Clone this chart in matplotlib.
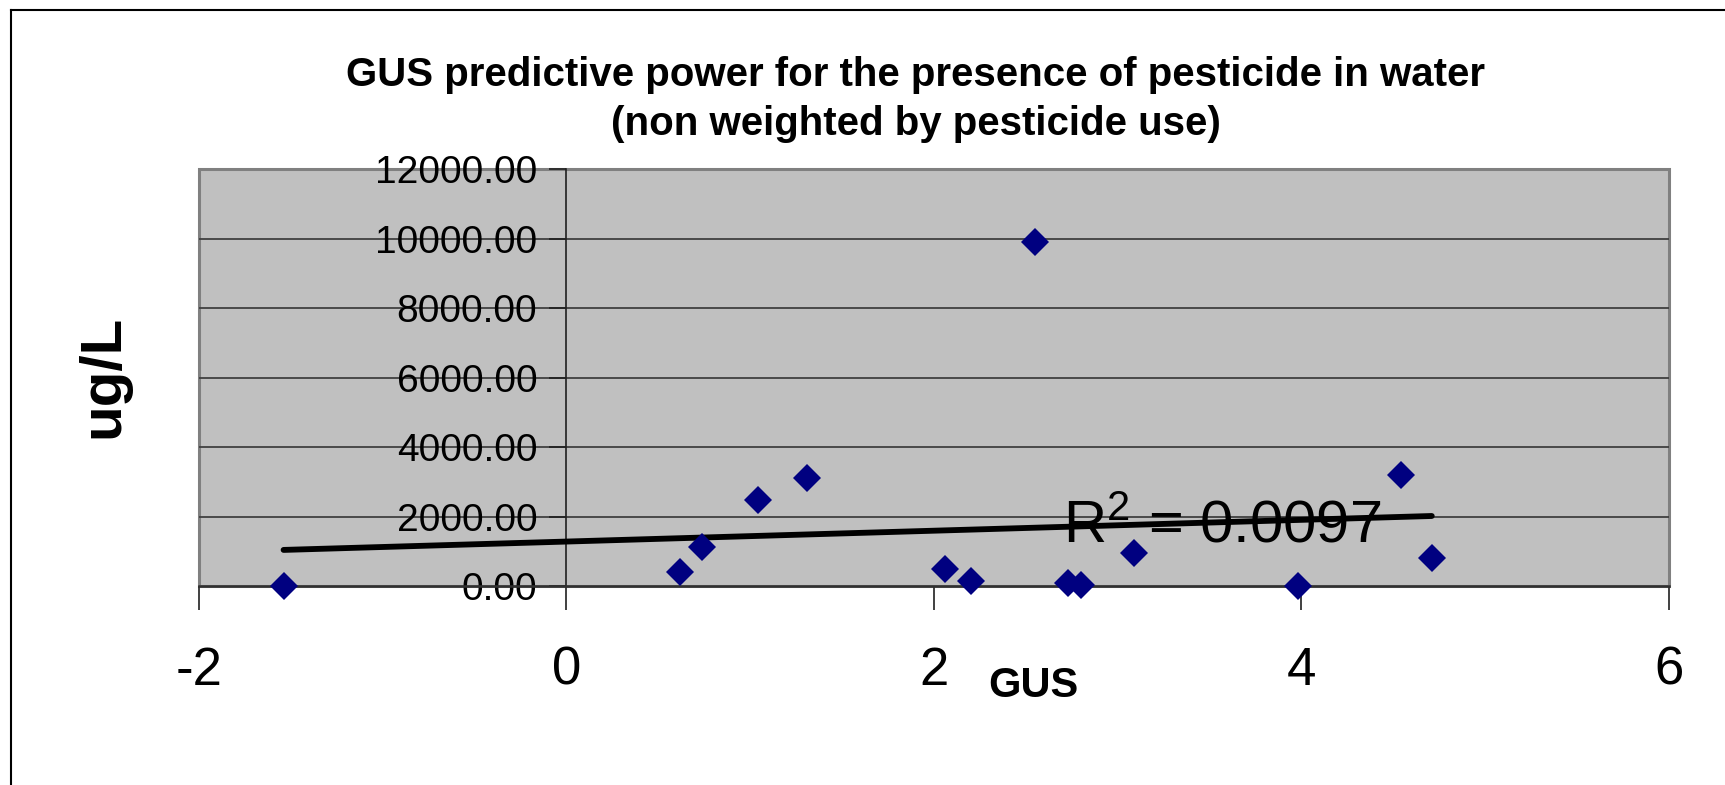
#!/usr/bin/env python3

"""
GUS predictive power scatter with linear trendline.
"""

import numpy as np
import matplotlib
matplotlib.use("Agg")
import matplotlib.pyplot as plt
from matplotlib.lines import Line2D
from matplotlib.patches import Rectangle

plt.rcParams["font.family"] = ["Liberation Sans", "DejaVu Sans"]
plt.rcParams["mathtext.default"] = "regular"

# values
gus = [-1.54, 0.62, 0.74, 1.04, 1.31, 2.06, 2.20, 2.55, 2.73, 2.80, 3.09, 3.98, 4.54, 4.71]
conc_ugl = [0, 400, 1130, 2480, 3120, 480, 150, 9900, 80, 30, 960, 0, 3200, 800]

r2_label = "0.0097"
x_ticks = [-2, 0, 2, 4, 6]
y_ticks = [0, 2000, 4000, 6000, 8000, 10000, 12000]

title_line1 = "GUS predictive power for the presence of pesticide in water"
title_line2 = "(non weighted by pesticide use)"


fig = plt.figure(figsize=(17.25, 7.85), dpi=100)
ax = fig.add_axes([0.1154, 0.2535, 0.852, 0.531])
ax.set_facecolor("#C0C0C0")

ax.set_xlim(-2, 6)
ax.set_ylim(0, 12000)

# horizontal gridlines
for yv in y_ticks[1:-1]:
    ax.axhline(yv, color="#404040", linewidth=1.3, zorder=1)

# linear trendline from the data
x = np.array(gus)
y = np.array(conc_ugl)
slope, intercept = np.polyfit(x, y, 1)
xs = np.array([x.min(), x.max()])
ax.plot(xs, slope * xs + intercept, color="black", linewidth=4.2,
        solid_capstyle="round", zorder=3)

ax.plot(gus, conc_ugl, linestyle="none", marker="D", markersize=14,
        color="#000080", markeredgewidth=0, zorder=4, clip_on=False)

ax.text(2.70, 1260, r"R$^{2}$ = " + r2_label, fontsize=43,
        va="baseline", ha="left", zorder=5)

# y axis crosses at x = 0, like the spreadsheet chart
for side in ["top", "right"]:
    ax.spines[side].set_visible(False)
ax.spines["left"].set_position(("data", 0))
ax.spines["left"].set_color("#202020")
ax.spines["left"].set_linewidth(1.2)
ax.spines["bottom"].set_color("#303030")
ax.spines["bottom"].set_linewidth(1.8)

# plot area frame
ax.add_patch(Rectangle((0, 0), 1, 1, transform=ax.transAxes, fill=False,
                       edgecolor="#808080", linewidth=2.2, zorder=0.5,
                       clip_on=False))

ax.set_yticks(y_ticks)
ax.set_yticklabels([f"{v:.2f}" for v in y_ticks])
ax.set_xticks(x_ticks)
ax.set_xticklabels([str(v) for v in x_ticks])
ax.tick_params(axis="y", direction="out", length=12, width=1.2,
               color="#202020", labelsize=28, pad=9)
ax.tick_params(axis="x", direction="out", length=17, width=1.2,
               color="#202020", labelsize=38, pad=26)

fig.text(0.531, 0.904, title_line1, fontsize=29, fontweight="bold",
         ha="center", va="center")
fig.text(0.531, 0.842, title_line2, fontsize=29, fontweight="bold",
         ha="center", va="center")

fig.text(0.060, 0.52, "ug/L", fontsize=42, fontweight="bold",
         rotation=90, ha="center", va="center")
fig.text(0.599, 0.126, "GUS", fontsize=30, fontweight="bold",
         ha="center", va="center")

# outer chart border (left and top edges visible)
fig.add_artist(Line2D([0.0064, 0.0064], [0, 0.987], color="black",
                      linewidth=1.5, transform=fig.transFigure))
fig.add_artist(Line2D([0.0064, 1], [0.987, 0.987], color="black",
                      linewidth=1.5, transform=fig.transFigure))

fig.savefig("out.png", dpi=100)
plt.close(fig)
